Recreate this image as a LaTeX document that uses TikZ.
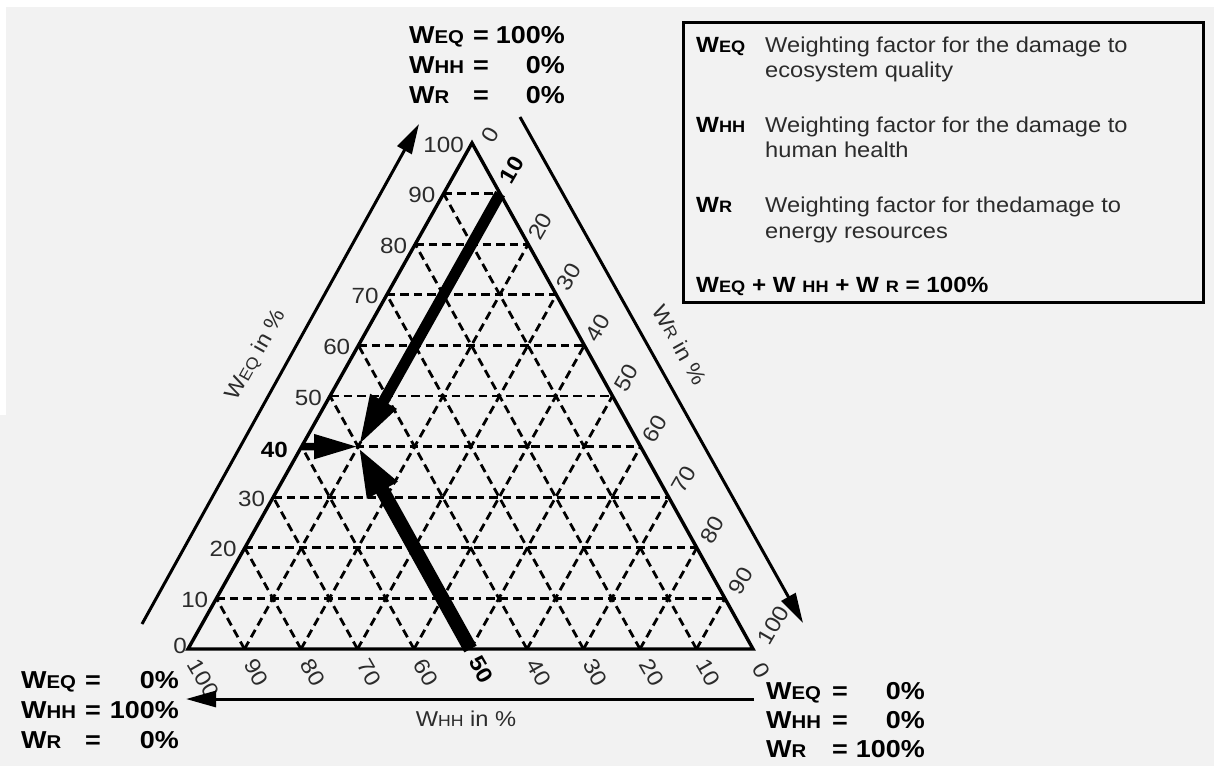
\documentclass[tikz,border=0pt]{standalone}
\usepackage{fontspec}
\setmainfont{Liberation Sans}[FakeStretch=1.1]
\usetikzlibrary{arrows.meta,calc}
\definecolor{bg}{HTML}{F2F2F2}
\definecolor{txt}{HTML}{2B2B2B}
\newcommand\Wsub[2]{W{\fontsize{#1}{#1}\selectfont #2}}
\newcommand\cornerline[7]{%
  \node[corner, anchor=base west] (#1l) at (#2,#5) {\Wsub{18.5}{#6}};
  \node[corner, anchor=base] (#1e) at (#3,#5) {=};
  \node[corner, anchor=base east] (#1v) at (#4,#5) {#7};
}
\begin{document}
\begin{tikzpicture}[x=1pt,y=-1pt,
  grid/.style={line width=2.8pt, dash pattern=on 8.5pt off 5pt},
  side/.style={line width=3.4pt, line join=miter},
  axisarrow/.style={line width=3pt,-{Triangle[length=30pt,width=16pt]}},
  tick/.style={font=\fontsize{22}{22}\selectfont, text=txt, inner sep=0pt},
  btick/.style={font=\fontsize{22}{22}\selectfont\bfseries, text=black, inner sep=0pt},
  axlbl/.style={font=\fontsize{21.5}{21.5}\selectfont, text=txt, inner sep=0pt},
  corner/.style={font=\fontsize{24.5}{24.5}\selectfont\bfseries, text=black, inner sep=0pt},
  legw/.style={font=\fontsize{22}{22}\selectfont\bfseries, text=black, inner sep=0pt},
  legt/.style={font=\fontsize{21.5}{21.5}\selectfont, text=txt, inner sep=0pt}]
\useasboundingbox (0,0) rectangle (1214,766);
\fill[white] (0,0) rectangle (1214,766);
\fill[bg] (6,7) rectangle (1214,766);
\fill[bg] (0,415) rectangle (6,766);

% triangle corners
\coordinate (A) at (188,649);
\coordinate (B) at (753,649);
\coordinate (C) at (472,143);

% grid
\foreach \k in {1,...,9}{
  \draw[grid] ($(A)!\k/10!(C)$) -- ($(B)!\k/10!(C)$);
  \draw[grid] ($(A)!\k/10!(B)$) -- ($(C)!\k/10!(B)$);
  \draw[grid] ($(A)!\k/10!(B)$) -- ($(A)!\k/10!(C)$);
}
\draw[side] (A) -- (B) -- (C) -- cycle;

% left ticks (W_EQ)
\node[tick, anchor=east] (le0) at (187,646) {0};
\foreach \k/\v in {1/10,2/20,3/30,5/50,6/60,7/70,8/80,9/90,10/100}{
  \node[tick, anchor=east] (le\k) at ($(A)!\k/10!(C)+(-8,1.5)$) {\v};
}
\node[btick, anchor=east] (le4) at (288,450) {40};

% right ticks (W_R)
\node[tick, anchor=west, rotate=60] (ri0) at (486.7,140.6) {0};
\node[btick, anchor=west, rotate=60] (ri1) at ($(C)!0.1!(B)+(5,-12)$) {10};
\foreach \k/\v in {2/20,3/30,4/40,5/50,6/60,7/70,8/80,9/90,10/100}{
  \node[tick, anchor=west, rotate=60] (ri\k) at ($(C)!\k/10!(B)+(4+0.6*\k,-6)$) {\v};
}

% bottom ticks (W_HH)
\foreach \j/\v in {0/100,1/90,2/80,3/70,4/60,6/40,7/30,8/20,9/10}{
  \node[tick, anchor=west, rotate=-60] (bo\j) at ($(A)!\j/10!(B)+(5,12)$) {\v};
}
\node[btick, anchor=west, rotate=-60] (bo5) at ($(A)!0.5!(B)+(4,9)$) {50};
\node[tick, anchor=west, rotate=-60] (bo10) at ($(B)+(5,16)$) {0};

% thick arrows
\coordinate (X) at (358.1,446.6);
\coordinate (R10) at ($(C)!0.1!(B)$);
\coordinate (H50) at ($(A)!0.5!(B)$);
\coordinate (E40) at ($(A)!0.4!(C)$);
\draw[line width=11pt, -{Triangle[length=52pt,width=27pt]}] (R10) -- (X);
\draw[line width=14pt, -{Triangle[length=50pt,width=31pt]}] (H50) -- (X);
\draw[line width=7.5pt, -{Triangle[length=44pt,width=23pt]}] (E40) -- (X);

% outer axes
\coordinate (la1) at (142,624);
\coordinate (la2) at (419,124);
\coordinate (ra1) at (520,117);
\coordinate (ra2) at (803,623);
\coordinate (ba1) at (754,699);
\coordinate (ba2) at (186,699);
\draw[axisarrow] (la1) -- (la2);
\draw[axisarrow] (ra1) -- (ra2);
\draw[axisarrow] (ba1) -- (ba2);
\node[axlbl, rotate=60.7] (weqlbl) at (256,355) {\Wsub{16}{EQ} in \%};
\node[axlbl, rotate=-60.9] (wrlbl) at (680,345) {\Wsub{16}{R} in \%};
\node[axlbl] (whhlbl) at (466,719) {\Wsub{16}{HH} in \%};

% corner labels
\cornerline{ta}{409}{481}{565}{43}{EQ}{100\%}
\cornerline{tb}{409}{481}{565}{73}{HH}{0\%}
\cornerline{tc}{409}{481}{565}{103}{R}{0\%}
\cornerline{la}{21}{93}{179}{688}{EQ}{0\%}
\cornerline{lb}{21}{93}{179}{718}{HH}{100\%}
\cornerline{lc}{21}{93}{179}{748}{R}{0\%}
\cornerline{ra}{766}{840}{925}{699}{EQ}{0\%}
\cornerline{rb}{766}{840}{925}{728}{HH}{0\%}
\cornerline{rc}{766}{840}{925}{757}{R}{100\%}

% legend
\draw[line width=3pt] (683,22) rectangle (1203,302);
\node[legw, anchor=base west] (lw1) at (696,52) {\Wsub{16.5}{EQ}};
\node[legt, anchor=base west] (lt1a) at (765,52) {Weighting factor for the damage to};
\node[legt, anchor=base west] (lt1b) at (765,77) {ecosystem quality};
\node[legw, anchor=base west] (lw2) at (696,132) {\Wsub{16.5}{HH}};
\node[legt, anchor=base west] (lt2a) at (765,132) {Weighting factor for the damage to};
\node[legt, anchor=base west] (lt2b) at (765,157) {human health};
\node[legw, anchor=base west] (lw3) at (696,212) {\Wsub{16.5}{R}};
\node[legt, anchor=base west] (lt3a) at (765,212) {Weighting factor for thedamage to};
\node[legt, anchor=base west] (lt3b) at (765,238) {energy resources};
\node[legw, anchor=base west] (lsum) at (696,292) {\Wsub{16.5}{EQ} + W {\fontsize{16.5}{16.5}\selectfont HH} + W {\fontsize{16.5}{16.5}\selectfont R} = 100\%};
\end{tikzpicture}
\end{document}
